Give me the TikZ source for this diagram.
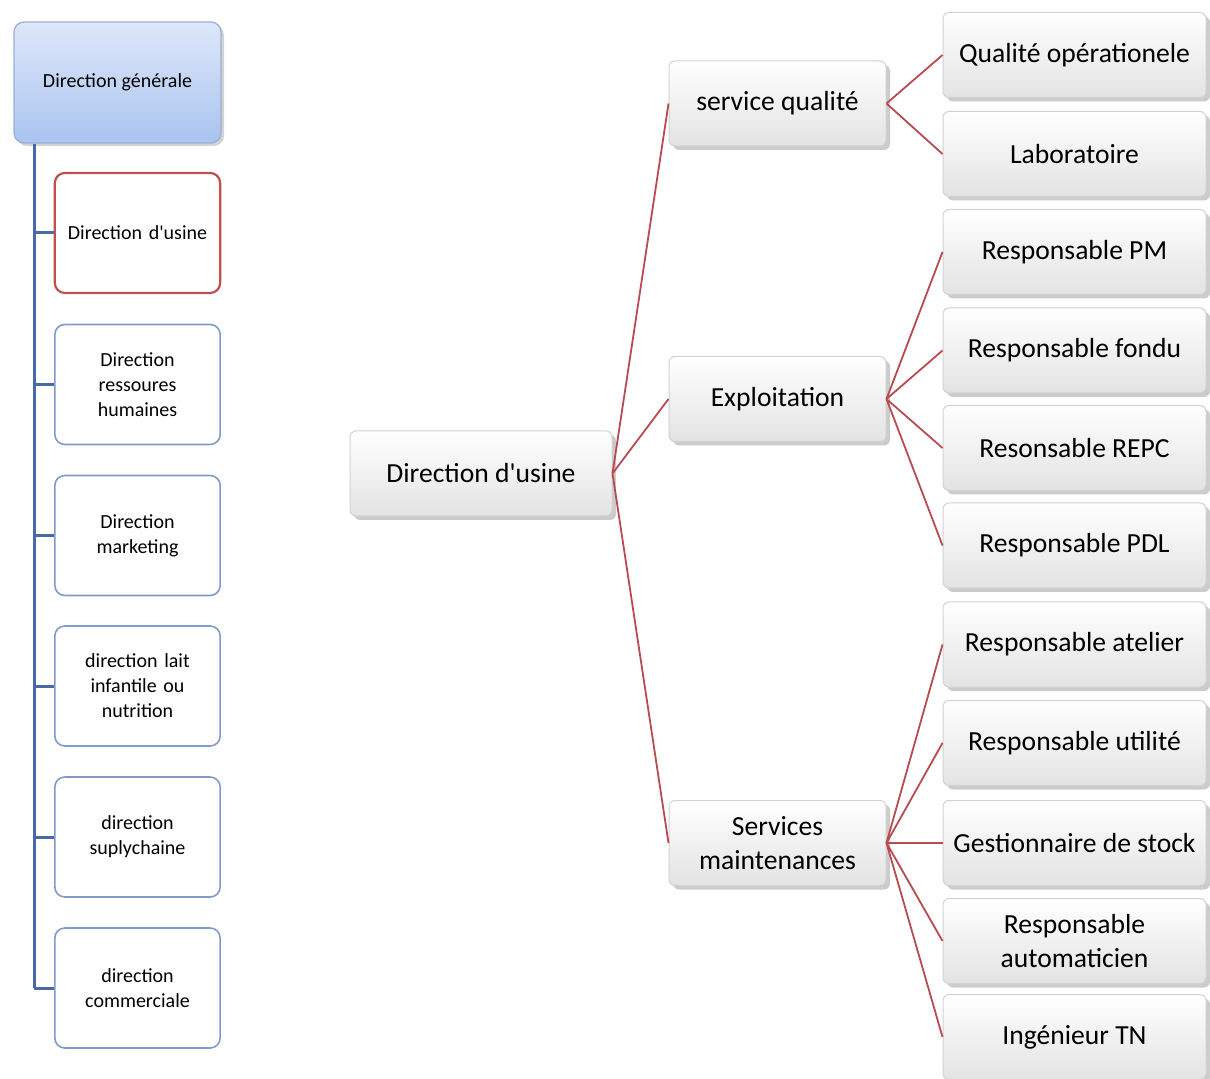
\documentclass[tikz,border=0pt]{standalone}
\usepackage{fontspec}
\setmainfont{Carlito}
\usetikzlibrary{positioning,shadows}

\definecolor{boxblue}{HTML}{7F9CC8}
\definecolor{trunkblue}{HTML}{4A6AA6}
\definecolor{linkred}{HTML}{B84B50}
\definecolor{usinered}{HTML}{C0504D}
\definecolor{gentop}{HTML}{DEE7FA}
\definecolor{genbot}{HTML}{A9C4F0}

\begin{document}
\begin{tikzpicture}[x=0.5pt,y=-0.5pt,
  dirbox/.style={draw=boxblue,line width=0.8pt,rounded corners=5pt,fill=white,
    minimum width=82.5pt,minimum height=60pt,text width=76pt,align=center,
    font=\fontsize{10}{12.5}\selectfont},
  topbox/.style={draw=boxblue!80,line width=0.6pt,rounded corners=5pt,
    top color=gentop,bottom color=genbot,
    drop shadow={shadow xshift=1.5pt,shadow yshift=-1.5pt,opacity=0.35},
    minimum width=103.5pt,minimum height=60.5pt,align=center,
    font=\fontsize{10}{12.5}\selectfont},
  greybox/.style={draw=gray!35,line width=0.5pt,rounded corners=3pt,
    top color=white,bottom color=gray!22,
    drop shadow={shadow xshift=2pt,shadow yshift=-2pt,opacity=0.4},
    minimum height=42.5pt,inner xsep=2pt,align=center,
    font=\fontsize{13.8}{17}\selectfont},
  trunk/.style={draw=trunkblue,line width=1.5pt},
  link/.style={draw=linkred,line width=0.9pt}]
\useasboundingbox (0,0) rectangle (1210,1079);

% left column
\node[topbox] (gen) at (117.5,82.5) {Direction générale};
\node[dirbox,draw=usinered,line width=1.1pt] (dusine) at (137.5,233) {Direction d\textquotesingle usine};
\node[dirbox] (drh) at (137.5,384.5) {Direction\\ressoures\\humaines};
\node[dirbox] (dmkt) at (137.5,535.5) {Direction\\marketing};
\node[dirbox] (dlait) at (137.5,686) {direction lait\\infantile ou\\nutrition};
\node[dirbox] (dsup) at (137.5,837) {direction\\suplychaine};
\node[dirbox] (dcom) at (137.5,988) {direction\\commerciale};

\coordinate (t0) at ([xshift=10.5pt]gen.south west);
\draw[trunk] (t0) -- (t0 |- dcom.west);
\foreach \d in {dusine,drh,dmkt,dlait,dsup,dcom}
  \draw[trunk] (t0 |- \d.west) -- (\d.west);

% right tree
\node[greybox,minimum width=131pt] (usine) at (481,473.5) {Direction d\textquotesingle usine};

\node[greybox,minimum width=108.5pt] (qual) at (777.5,103.5) {service qualité};
\node[greybox,minimum width=108.5pt] (expl) at (777.5,399) {Exploitation};
\node[greybox,minimum width=108.5pt] (maint) at (777.5,843) {Services\\maintenances};

\node[greybox,minimum width=131.5pt] (qop) at (1074.5,55) {Qualité opérationele};
\node[greybox,minimum width=131.5pt] (labo) at (1074.5,154) {Laboratoire};
\node[greybox,minimum width=131.5pt] (rpm) at (1074.5,252) {Responsable PM};
\node[greybox,minimum width=131.5pt] (rfon) at (1074.5,350.5) {Responsable fondu};
\node[greybox,minimum width=131.5pt] (repc) at (1074.5,448) {Resonsable REPC};
\node[greybox,minimum width=131.5pt] (rpdl) at (1074.5,545.5) {Responsable PDL};
\node[greybox,minimum width=131.5pt] (rat) at (1074.5,644.5) {Responsable atelier};
\node[greybox,minimum width=131.5pt] (rut) at (1074.5,743) {Responsable utilité};
\node[greybox,minimum width=131.5pt] (gst) at (1074.5,843) {Gestionnaire de stock};
\node[greybox,minimum width=131.5pt] (raut) at (1074.5,941) {Responsable\\automaticien};
\node[greybox,minimum width=131.5pt] (ing) at (1074.5,1037) {Ingénieur TN};

\foreach \c in {qual,expl,maint}
  \draw[link] (usine.east) -- (\c.west);
\foreach \c in {qop,labo}
  \draw[link] (qual.east) -- (\c.west);
\foreach \c in {rpm,rfon,repc,rpdl}
  \draw[link] (expl.east) -- (\c.west);
\foreach \c in {rat,rut,gst,raut,ing}
  \draw[link] (maint.east) -- (\c.west);
\end{tikzpicture}
\end{document}
